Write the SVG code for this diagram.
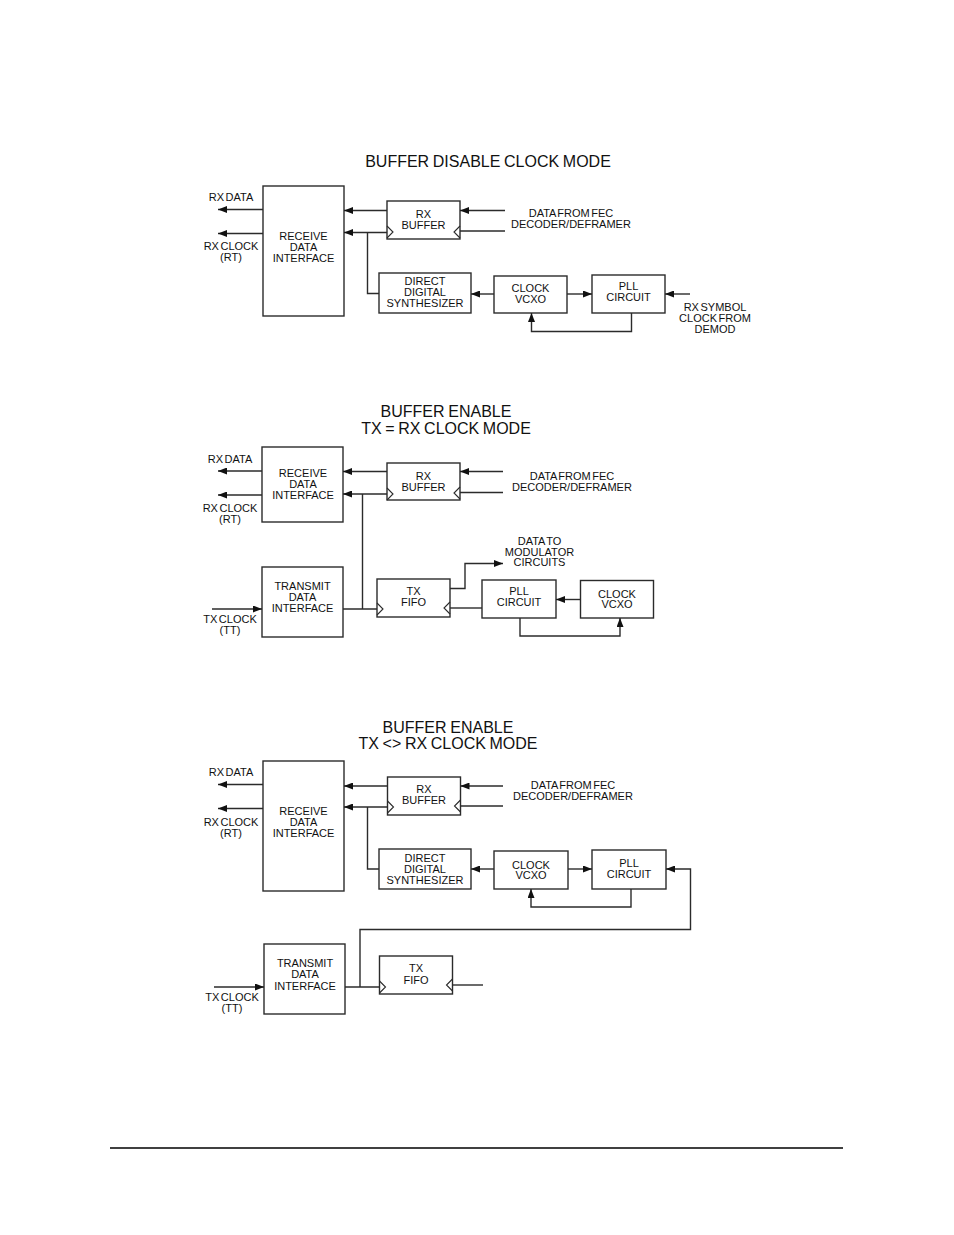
<svg xmlns="http://www.w3.org/2000/svg" width="954" height="1235" viewBox="0 0 954 1235">
<defs>
<style>
.bx{fill:#fff;stroke:#2b2b2b;stroke-width:1.4}
.ln{fill:none;stroke:#2b2b2b;stroke-width:1.4}
.ar{fill:none;stroke:#2b2b2b;stroke-width:1.4;marker-end:url(#ah)}
.clk{fill:none;stroke:#2b2b2b;stroke-width:1.1}
text{font-family:"Liberation Sans",Arial,Helvetica,sans-serif;font-size:11px;fill:#111;text-anchor:middle;word-spacing:-1.5px}
.tt{font-size:16px;word-spacing:-0.8px}
</style>
<marker id="ah" viewBox="0 0 9 7" refX="9" refY="3.5" markerWidth="9" markerHeight="7" markerUnits="userSpaceOnUse" orient="auto">
<path d="M0,0 L9,3.5 L0,7 z" fill="#111"/>
</marker>
</defs>
<rect width="954" height="1235" fill="#fff"/>

<!-- ===== Diagram 1 ===== -->
<g id="title1"><text class="tt" x="488" y="167">BUFFER DISABLE CLOCK MODE</text></g>
<g id="d1-labels">
<text x="231" y="201">RX DATA</text>
<text x="231" y="250">RX CLOCK</text>
<text x="231" y="261">(RT)</text>
<text x="571" y="217">DATA FROM FEC</text>
<text x="571" y="228">DECODER/DEFRAMER</text>
<text x="715" y="311">RX SYMBOL</text>
<text x="715" y="322">CLOCK FROM</text>
<text x="715" y="333">DEMOD</text>
</g>
<g id="d1-rdi"><rect class="bx" x="263" y="186" width="81" height="130"/>
<text x="303.5" y="240">RECEIVE</text><text x="303.5" y="251">DATA</text><text x="303.5" y="262">INTERFACE</text></g>
<g id="d1-rxbuf"><rect class="bx" x="387" y="201" width="73" height="38"/>
<text x="423.5" y="218">RX</text><text x="423.5" y="229">BUFFER</text>
<polyline class="clk" points="387,226 393,232 387,238"/><polyline class="clk" points="460,226 454,232 460,238"/></g>
<g id="d1-dds"><rect class="bx" x="379" y="273" width="92" height="40"/>
<text x="425" y="285">DIRECT</text><text x="425" y="296">DIGITAL</text><text x="425" y="307">SYNTHESIZER</text></g>
<g id="d1-vcxo"><rect class="bx" x="494" y="276" width="73" height="37"/>
<text x="530.5" y="292">CLOCK</text><text x="530.5" y="303">VCXO</text></g>
<g id="d1-pll"><rect class="bx" x="592" y="275" width="73" height="38"/>
<text x="628.5" y="289.5">PLL</text><text x="628.5" y="300.5">CIRCUIT</text></g>
<g id="d1-connectors">
<line class="ar" x1="263" y1="209.5" x2="218" y2="209.5"/>
<line class="ar" x1="263" y1="233.5" x2="218" y2="233.5"/>
<line class="ar" x1="387" y1="210.5" x2="344" y2="210.5"/>
<line class="ar" x1="387" y1="232.5" x2="344" y2="232.5"/>
<polyline class="ln" points="367.5,232.5 367.5,293.5 379,293.5"/>
<line class="ar" x1="505" y1="210.5" x2="460" y2="210.5"/>
<line class="ln" x1="505" y1="231" x2="460" y2="231"/>
<line class="ar" x1="494" y1="294" x2="471" y2="294"/>
<line class="ar" x1="567" y1="294" x2="592" y2="294"/>
<line class="ar" x1="690" y1="294" x2="665" y2="294"/>
<polyline class="ar" points="631.5,313 631.5,331.5 531.5,331.5 531.5,313"/>
</g>

<!-- ===== Diagram 2 ===== -->
<g id="title2"><text class="tt" x="446" y="417">BUFFER ENABLE</text><text class="tt" x="446" y="433.5">TX = RX CLOCK MODE</text></g>
<g id="d2-labels">
<text x="230" y="463">RX DATA</text>
<text x="230" y="512">RX CLOCK</text>
<text x="230" y="523">(RT)</text>
<text x="572" y="480">DATA FROM FEC</text>
<text x="572" y="491">DECODER/DEFRAMER</text>
<text x="230" y="623">TX CLOCK</text>
<text x="230" y="634">(TT)</text>
<text x="539.5" y="545">DATA TO</text>
<text x="539.5" y="555.5">MODULATOR</text>
<text x="539.5" y="566">CIRCUITS</text>
</g>
<g id="d2-rdi"><rect class="bx" x="262" y="447" width="81" height="75"/>
<text x="303" y="477">RECEIVE</text><text x="303" y="488">DATA</text><text x="303" y="499">INTERFACE</text></g>
<g id="d2-rxbuf"><rect class="bx" x="387" y="463" width="73" height="37"/>
<text x="423.5" y="479.5">RX</text><text x="423.5" y="490.5">BUFFER</text>
<polyline class="clk" points="387,488 393,494 387,500"/><polyline class="clk" points="460,487 454,493 460,499"/></g>
<g id="d2-tdi"><rect class="bx" x="262" y="567" width="81" height="70"/>
<text x="302.5" y="590">TRANSMIT</text><text x="302.5" y="601">DATA</text><text x="302.5" y="612">INTERFACE</text></g>
<g id="d2-txfifo"><rect class="bx" x="377" y="579" width="73" height="38"/>
<text x="413.5" y="595">TX</text><text x="413.5" y="606">FIFO</text>
<polyline class="clk" points="377,603 383,609 377,615"/><polyline class="clk" points="450,602 444,608 450,614"/></g>
<g id="d2-pll"><rect class="bx" x="482" y="580" width="74" height="38"/>
<text x="519" y="594.5">PLL</text><text x="519" y="605.5">CIRCUIT</text></g>
<g id="d2-vcxo"><rect class="bx" x="580.5" y="580.5" width="73" height="37.5"/>
<text x="617" y="597.5">CLOCK</text><text x="617" y="608">VCXO</text></g>
<g id="d2-connectors">
<line class="ar" x1="262" y1="471" x2="218" y2="471"/>
<line class="ar" x1="262" y1="495" x2="218" y2="495"/>
<line class="ar" x1="387" y1="471.5" x2="343" y2="471.5"/>
<line class="ar" x1="387" y1="494" x2="343" y2="494"/>
<line class="ln" x1="362.5" y1="494" x2="362.5" y2="609"/>
<line class="ar" x1="503" y1="471.5" x2="460" y2="471.5"/>
<line class="ln" x1="503" y1="492.5" x2="460" y2="492.5"/>
<line class="ar" x1="212" y1="609" x2="262" y2="609"/>
<line class="ln" x1="343" y1="609" x2="377" y2="609"/>
<polyline class="ar" points="450,588.5 465,588.5 465,563.5 503,563.5"/>
<line class="ln" x1="482" y1="608" x2="450" y2="608"/>
<line class="ar" x1="580.5" y1="599.5" x2="556" y2="599.5"/>
<polyline class="ar" points="520,618 520,636 620,636 620,618"/>
</g>

<!-- ===== Diagram 3 ===== -->
<g id="title3"><text class="tt" x="448" y="732.5">BUFFER ENABLE</text><text class="tt" x="448" y="748.5">TX &lt;&gt; RX CLOCK MODE</text></g>
<g id="d3-labels">
<text x="231" y="776">RX DATA</text>
<text x="231" y="826">RX CLOCK</text>
<text x="231" y="837">(RT)</text>
<text x="573" y="788.5">DATA FROM FEC</text>
<text x="573" y="799.5">DECODER/DEFRAMER</text>
<text x="232" y="1001">TX CLOCK</text>
<text x="232" y="1012">(TT)</text>
</g>
<g id="d3-rdi"><rect class="bx" x="263" y="761" width="81" height="130"/>
<text x="303.5" y="814.5">RECEIVE</text><text x="303.5" y="825.5">DATA</text><text x="303.5" y="836.5">INTERFACE</text></g>
<g id="d3-rxbuf"><rect class="bx" x="387.5" y="777" width="73" height="38"/>
<text x="424" y="792.5">RX</text><text x="424" y="803.5">BUFFER</text>
<polyline class="clk" points="387.5,801 393.5,807 387.5,813"/><polyline class="clk" points="460.5,800 454.5,806 460.5,812"/></g>
<g id="d3-dds"><rect class="bx" x="379" y="849" width="92" height="40"/>
<text x="425" y="862">DIRECT</text><text x="425" y="873">DIGITAL</text><text x="425" y="884">SYNTHESIZER</text></g>
<g id="d3-vcxo"><rect class="bx" x="494" y="851" width="74" height="38"/>
<text x="531" y="868.5">CLOCK</text><text x="531" y="879">VCXO</text></g>
<g id="d3-pll"><rect class="bx" x="592" y="850" width="74" height="39"/>
<text x="629" y="867">PLL</text><text x="629" y="877.5">CIRCUIT</text></g>
<g id="d3-tdi"><rect class="bx" x="264" y="944" width="81" height="70"/>
<text x="305" y="967">TRANSMIT</text><text x="305" y="978">DATA</text><text x="305" y="989.5">INTERFACE</text></g>
<g id="d3-txfifo"><rect class="bx" x="379.5" y="956" width="73" height="38"/>
<text x="416" y="972">TX</text><text x="416" y="983.5">FIFO</text>
<polyline class="clk" points="379.5,981 385.5,987 379.5,993"/><polyline class="clk" points="452.5,979 446.5,985 452.5,991"/></g>
<g id="d3-connectors">
<line class="ar" x1="263" y1="784.5" x2="218" y2="784.5"/>
<line class="ar" x1="263" y1="808.5" x2="218" y2="808.5"/>
<line class="ar" x1="387.5" y1="786" x2="344" y2="786"/>
<line class="ar" x1="387.5" y1="807" x2="344" y2="807"/>
<polyline class="ln" points="367.5,807 367.5,869 379,869"/>
<line class="ar" x1="503" y1="786" x2="460.5" y2="786"/>
<line class="ln" x1="503" y1="806" x2="460.5" y2="806"/>
<line class="ar" x1="494" y1="869" x2="471" y2="869"/>
<line class="ar" x1="568" y1="869" x2="592" y2="869"/>
<polyline class="ar" points="631,889 631,907 531,907 531,889"/>
<polyline class="ar" points="360,987 360,929.5 690.5,929.5 690.5,869 666,869"/>
<line class="ar" x1="214" y1="987" x2="264" y2="987"/>
<line class="ln" x1="345" y1="987" x2="379.5" y2="987"/>
<line class="ln" x1="452.5" y1="985" x2="483" y2="985"/>
</g>

<line x1="110" y1="1148" x2="843" y2="1148" stroke="#000" stroke-width="1.5"/>
</svg>
